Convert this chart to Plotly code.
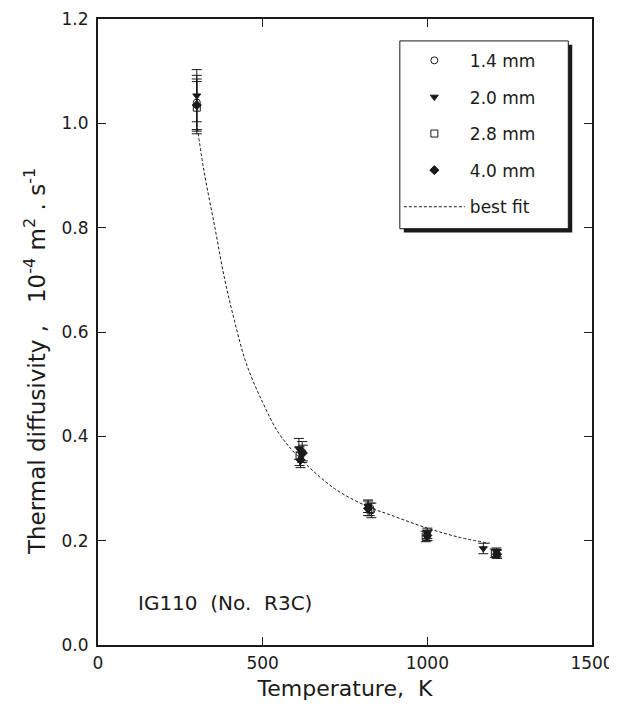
import plotly.graph_objects as go

# ---- data ----
T_14 = [300, 620, 830, 1000, 1210]
a_14 = [1.040, 0.370, 0.258, 0.210, 0.175]
e_14 = [0.052, 0.020, 0.014, 0.010, 0.008]

T_20 = [300, 610, 820, 1000, 1170, 1210]
a_20 = [1.053, 0.376, 0.266, 0.214, 0.185, 0.178]
e_20 = [0.050, 0.020, 0.012, 0.010, 0.010, 0.008]

T_28 = [300, 612, 825, 995, 1205]
a_28 = [1.030, 0.362, 0.260, 0.208, 0.176]
e_28 = [0.050, 0.018, 0.012, 0.010, 0.008]

T_40 = [300, 615, 622, 820, 1000, 1212]
a_40 = [1.035, 0.355, 0.368, 0.262, 0.210, 0.174]
e_40 = [0.050, 0.015, 0.015, 0.014, 0.010, 0.008]

T_fit = [300, 320, 355, 385, 415, 450, 500, 550, 610, 718, 820, 885, 1000, 1100, 1190]
a_fit = [1.000, 0.915, 0.800, 0.700, 0.620, 0.540, 0.465, 0.405, 0.360, 0.300, 0.265, 0.250, 0.224, 0.206, 0.195]

x_ticks = [0, 500, 1000, 1500]
y_ticks = [0.0, 0.2, 0.4, 0.6, 0.8, 1.0, 1.2]

FONT = "DejaVu Sans"
INK = "#1a1a1a"

fig = go.Figure()

def add_series(T, a, e, name, symbol, group):
    fig.add_trace(go.Scatter(
        x=T, y=a, mode="markers", name=name, legendgroup=group,
        marker=dict(symbol=symbol, size=7, color=INK,
                    line=dict(color=INK, width=1)),
        error_y=dict(type="data", array=e, visible=True, color=INK,
                     thickness=1, width=5),
    ))

add_series(T_14, a_14, e_14, "1.4 mm", "circle-open", "g1")
add_series(T_20, a_20, e_20, "2.0 mm", "triangle-down", "g2")
add_series(T_28, a_28, e_28, "2.8 mm", "square-open", "g3")
add_series(T_40, a_40, e_40, "4.0 mm", "diamond", "g4")

fig.add_trace(go.Scatter(
    x=T_fit, y=a_fit, mode="lines", name="best fit", legendgroup="g5",
    line=dict(color=INK, width=1, dash="3px,2px", shape="spline"),
))

# legend box with shadow
fig.add_shape(type="rect", xref="paper", yref="paper",
              x0=0.619, x1=0.960, y0=0.659, y1=0.959,
              fillcolor=INK, line=dict(width=0), layer="above")
fig.add_shape(type="rect", xref="paper", yref="paper",
              x0=0.611, x1=0.952, y0=0.665, y1=0.965,
              fillcolor="white", line=dict(color=INK, width=1), layer="above")

fig.add_annotation(x=115, y=0.08, xref="x", yref="y", text="IG110  (No.  R3C)",
                   showarrow=False, xanchor="left", yanchor="middle",
                   font=dict(family=FONT, size=20, color=INK))

# y-axis title
fig.add_annotation(x=-0.1275, y=0.452, xref="paper", yref="paper",
                   text="Thermal diffusivity ,   10<sup>-4</sup> m<sup>2</sup> . s<sup>-1</sup>",
                   textangle=-90, showarrow=False, xanchor="center", yanchor="middle",
                   font=dict(family=FONT, size=23, color=INK))

fig.update_layout(
    width=617, height=708,
    margin=dict(l=90, r=33, t=11, b=71),
    paper_bgcolor="white", plot_bgcolor="white",
    font=dict(family=FONT, size=17, color=INK),
    showlegend=True,
    legend=dict(x=0.609, y=0.962, xanchor="left", yanchor="top",
                bgcolor="rgba(0,0,0,0)", borderwidth=0,
                tracegroupgap=11.5, traceorder="grouped", itemwidth=61,
                font=dict(family=FONT, size=17, color=INK)),
    xaxis=dict(range=[0, 1500], tickvals=x_ticks, ticks="inside", ticklen=8,
               tickwidth=1, tickcolor=INK, showline=True, linecolor=INK,
               linewidth=2, mirror="ticks", showgrid=False, zeroline=False,
               automargin=False, tickfont=dict(size=17), ticklabelstandoff=2,
               title=dict(text="Temperature,  K", font=dict(size=22), standoff=8)),
    yaxis=dict(range=[0, 1.2], tickvals=y_ticks, tickformat=".1f",
               ticks="inside", ticklen=8, tickwidth=1, tickcolor=INK,
               showline=True, linecolor=INK, linewidth=2, mirror="ticks",
               showgrid=False, zeroline=False, automargin=False,
               tickfont=dict(size=17), ticklabelstandoff=4),
)

fig.write_html("out.html")
